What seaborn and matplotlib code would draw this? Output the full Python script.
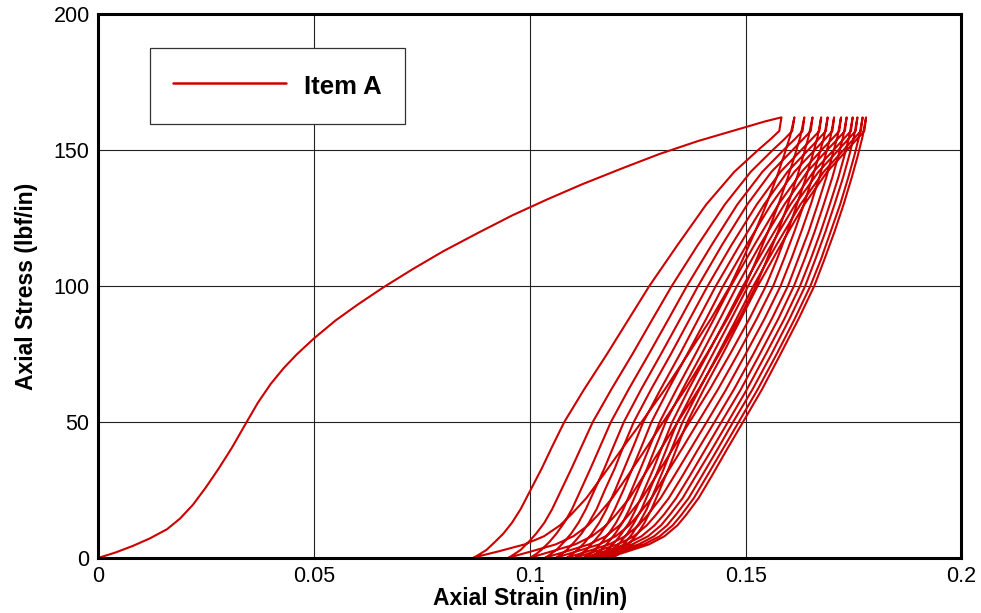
import matplotlib
matplotlib.use("Agg")
import matplotlib.pyplot as plt
import pandas as pd
import seaborn as sns
from matplotlib.ticker import MultipleLocator, FixedLocator, FixedFormatter

# ---------------- data ----------------
series_name = "Item A"

# monotonic (virgin) loading curve
load_strain = [0.0, 0.004, 0.008, 0.012, 0.016, 0.019, 0.022, 0.025, 0.028, 0.031,
               0.034, 0.037, 0.040, 0.043, 0.046, 0.050, 0.055, 0.060, 0.066, 0.073,
               0.080, 0.088, 0.096, 0.104, 0.112, 0.121, 0.130, 0.139, 0.148, 0.1545,
               0.1583]
load_stress = [0.0, 2.0, 4.4, 7.2, 10.6, 14.5, 19.6, 26.0, 33.0, 40.5,
               48.8, 57.0, 64.0, 69.8, 74.8, 80.7, 87.3, 93.0, 99.4, 106.3,
               112.8, 119.5, 126.0, 131.8, 137.3, 143.0, 148.5, 153.3, 157.5, 160.5,
               162.0]

# unloading branches: strain at these stress levels (from peak down to zero)
unload_stress = [162, 157, 154, 150, 142, 130, 115, 100, 88, 75, 62,
                 50, 41, 33, 25, 18, 13, 9, 6, 3, 1.5, 0]
unload_strains = [
    [0.1583, 0.1578, 0.1558, 0.1529, 0.1474, 0.1409, 0.1342, 0.1277, 0.1230, 0.1179, 0.1126,
     0.1080, 0.1052, 0.1028, 0.1002, 0.0979, 0.0959, 0.0939, 0.0920, 0.0900, 0.0885, 0.0869],
    [0.1613, 0.1608, 0.1590, 0.1563, 0.1512, 0.1452, 0.1389, 0.1329, 0.1285, 0.1238, 0.1189,
     0.1146, 0.1120, 0.1097, 0.1073, 0.1052, 0.1034, 0.1015, 0.0998, 0.0979, 0.0965, 0.0950],
    [0.1636, 0.1632, 0.1614, 0.1588, 0.1539, 0.1481, 0.1421, 0.1364, 0.1322, 0.1276, 0.1229,
     0.1188, 0.1163, 0.1141, 0.1118, 0.1098, 0.1080, 0.1062, 0.1046, 0.1027, 0.1015, 0.1000],
    [0.1655, 0.1651, 0.1633, 0.1609, 0.1560, 0.1504, 0.1445, 0.1390, 0.1349, 0.1304, 0.1258,
     0.1218, 0.1194, 0.1173, 0.1150, 0.1130, 0.1113, 0.1096, 0.1080, 0.1062, 0.1049, 0.1035],
    [0.1675, 0.1671, 0.1653, 0.1629, 0.1581, 0.1526, 0.1467, 0.1412, 0.1371, 0.1327, 0.1281,
     0.1241, 0.1217, 0.1197, 0.1174, 0.1155, 0.1137, 0.1120, 0.1104, 0.1086, 0.1074, 0.1060],
    [0.1690, 0.1686, 0.1669, 0.1645, 0.1597, 0.1543, 0.1486, 0.1431, 0.1391, 0.1348, 0.1303,
     0.1263, 0.1240, 0.1219, 0.1198, 0.1178, 0.1161, 0.1144, 0.1129, 0.1111, 0.1099, 0.1085],
    [0.1705, 0.1701, 0.1684, 0.1660, 0.1613, 0.1559, 0.1502, 0.1448, 0.1409, 0.1365, 0.1321,
     0.1282, 0.1259, 0.1238, 0.1217, 0.1197, 0.1181, 0.1164, 0.1148, 0.1131, 0.1119, 0.1105],
    [0.1721, 0.1717, 0.1700, 0.1676, 0.1630, 0.1576, 0.1520, 0.1466, 0.1427, 0.1384, 0.1340,
     0.1301, 0.1278, 0.1257, 0.1236, 0.1217, 0.1200, 0.1183, 0.1168, 0.1151, 0.1139, 0.1125],
    [0.1734, 0.1730, 0.1713, 0.1689, 0.1643, 0.1590, 0.1533, 0.1480, 0.1441, 0.1398, 0.1354,
     0.1315, 0.1292, 0.1272, 0.1250, 0.1231, 0.1215, 0.1198, 0.1183, 0.1166, 0.1154, 0.1140],
    [0.1748, 0.1744, 0.1727, 0.1704, 0.1657, 0.1604, 0.1548, 0.1494, 0.1455, 0.1412, 0.1368,
     0.1330, 0.1307, 0.1287, 0.1265, 0.1246, 0.1230, 0.1213, 0.1198, 0.1180, 0.1169, 0.1155],
    [0.1759, 0.1755, 0.1738, 0.1715, 0.1669, 0.1615, 0.1559, 0.1506, 0.1467, 0.1424, 0.1381,
     0.1342, 0.1319, 0.1299, 0.1278, 0.1259, 0.1242, 0.1226, 0.1211, 0.1193, 0.1182, 0.1168],
    [0.1771, 0.1767, 0.1750, 0.1727, 0.1681, 0.1627, 0.1571, 0.1518, 0.1479, 0.1436, 0.1393,
     0.1354, 0.1331, 0.1311, 0.1290, 0.1271, 0.1254, 0.1238, 0.1223, 0.1205, 0.1194, 0.1180],
    [0.1779, 0.1775, 0.1758, 0.1735, 0.1689, 0.1636, 0.1581, 0.1528, 0.1489, 0.1447, 0.1403,
     0.1365, 0.1342, 0.1322, 0.1301, 0.1282, 0.1266, 0.1250, 0.1234, 0.1217, 0.1206, 0.1192],
]

# reloading branches: strain at these stress levels (from zero up to the next peak)
reload_stress = [0, 1, 2.5, 5, 8, 12, 16, 22, 30, 40, 50,
                 62, 75, 88, 100, 110, 120, 130, 140, 148, 155, 162]
reload_strains = [
    [0.0869, 0.0891, 0.0929, 0.0988, 0.1033, 0.1070, 0.1096, 0.1131, 0.1168, 0.1213, 0.1259,
     0.1313, 0.1367, 0.1420, 0.1464, 0.1494, 0.1522, 0.1548, 0.1572, 0.1589, 0.1603, 0.1613],
    [0.0950, 0.0971, 0.1005, 0.1060, 0.1101, 0.1135, 0.1159, 0.1191, 0.1226, 0.1268, 0.1309,
     0.1360, 0.1410, 0.1458, 0.1499, 0.1526, 0.1552, 0.1576, 0.1598, 0.1614, 0.1627, 0.1636],
    [0.1000, 0.1020, 0.1052, 0.1105, 0.1144, 0.1177, 0.1200, 0.1231, 0.1263, 0.1303, 0.1343,
     0.1391, 0.1439, 0.1485, 0.1524, 0.1550, 0.1575, 0.1598, 0.1619, 0.1634, 0.1646, 0.1655],
    [0.1035, 0.1054, 0.1086, 0.1137, 0.1176, 0.1208, 0.1230, 0.1260, 0.1292, 0.1331, 0.1370,
     0.1417, 0.1464, 0.1509, 0.1547, 0.1573, 0.1597, 0.1619, 0.1640, 0.1655, 0.1667, 0.1675],
    [0.1060, 0.1079, 0.1110, 0.1161, 0.1199, 0.1230, 0.1252, 0.1282, 0.1313, 0.1352, 0.1390,
     0.1436, 0.1482, 0.1526, 0.1564, 0.1589, 0.1613, 0.1635, 0.1655, 0.1670, 0.1682, 0.1690],
    [0.1085, 0.1104, 0.1135, 0.1184, 0.1221, 0.1252, 0.1274, 0.1303, 0.1334, 0.1372, 0.1410,
     0.1455, 0.1500, 0.1544, 0.1581, 0.1606, 0.1629, 0.1651, 0.1671, 0.1685, 0.1697, 0.1705],
    [0.1105, 0.1123, 0.1154, 0.1204, 0.1241, 0.1271, 0.1293, 0.1322, 0.1353, 0.1390, 0.1428,
     0.1473, 0.1518, 0.1561, 0.1598, 0.1622, 0.1646, 0.1667, 0.1687, 0.1701, 0.1713, 0.1721],
    [0.1125, 0.1143, 0.1174, 0.1222, 0.1259, 0.1289, 0.1311, 0.1339, 0.1370, 0.1407, 0.1444,
     0.1489, 0.1533, 0.1576, 0.1612, 0.1637, 0.1660, 0.1681, 0.1701, 0.1715, 0.1726, 0.1734],
    [0.1140, 0.1158, 0.1189, 0.1237, 0.1274, 0.1304, 0.1325, 0.1354, 0.1384, 0.1422, 0.1459,
     0.1503, 0.1547, 0.1590, 0.1626, 0.1651, 0.1674, 0.1695, 0.1715, 0.1729, 0.1740, 0.1748],
    [0.1155, 0.1173, 0.1203, 0.1252, 0.1288, 0.1318, 0.1339, 0.1368, 0.1398, 0.1435, 0.1471,
     0.1516, 0.1560, 0.1602, 0.1638, 0.1662, 0.1685, 0.1706, 0.1726, 0.1740, 0.1751, 0.1759],
    [0.1168, 0.1186, 0.1216, 0.1264, 0.1301, 0.1331, 0.1352, 0.1380, 0.1410, 0.1447, 0.1484,
     0.1528, 0.1572, 0.1614, 0.1650, 0.1675, 0.1697, 0.1719, 0.1738, 0.1752, 0.1763, 0.1771],
    [0.1180, 0.1198, 0.1228, 0.1276, 0.1312, 0.1342, 0.1363, 0.1391, 0.1421, 0.1457, 0.1494,
     0.1538, 0.1581, 0.1623, 0.1659, 0.1683, 0.1706, 0.1727, 0.1746, 0.1760, 0.1771, 0.1779],
]

x_ticks = [0.0, 0.05, 0.1, 0.15, 0.2]
x_tick_labels = ["0", "0.05", "0.1", "0.15", "0.2"]
y_ticks = [0, 50, 100, 150, 200]
y_tick_labels = ["0", "50", "100", "150", "200"]
x_label = "Axial Strain (in/in)"
y_label = "Axial Stress (lbf/in)"

# ---------------- build the continuous test path ----------------
xs = list(load_strain)
ys = list(load_stress)
for i, u in enumerate(unload_strains):
    xs += u
    ys += unload_stress
    if i < len(reload_strains):
        xs += reload_strains[i]
        ys += reload_stress
df = pd.DataFrame({"strain": xs, "stress": ys, "series": series_name})

# ---------------- plotting ----------------
sns.set_style("white")
plt.rcParams["font.family"] = ["Liberation Sans", "DejaVu Sans"]
for key in ["text.color", "axes.labelcolor", "xtick.color", "ytick.color"]:
    plt.rcParams[key] = "black"

fig = plt.figure(figsize=(9.81, 6.13), dpi=100)
ax = fig.add_axes([0.0999, 0.0897, 0.8802, 0.8875])

sns.lineplot(data=df, x="strain", y="stress", hue="series", palette=["#CC0000"],
             sort=False, estimator=None, linewidth=1.5, ax=ax)

ax.set_xlim(0, 0.2)
ax.set_ylim(0, 200)
ax.xaxis.set_major_locator(FixedLocator(x_ticks))
ax.xaxis.set_major_formatter(FixedFormatter(x_tick_labels))
ax.yaxis.set_major_locator(FixedLocator(y_ticks))
ax.yaxis.set_major_formatter(FixedFormatter(y_tick_labels))
ax.xaxis.set_minor_locator(MultipleLocator(0.01))
ax.yaxis.set_minor_locator(MultipleLocator(10))

ax.tick_params(which="major", direction="in", length=10, width=1.8,
               labelsize=15.5, pad=6, colors="black", top=False, right=False)
ax.tick_params(which="minor", direction="in", length=6, width=0.8,
               top=False, right=False)

ax.grid(True, which="major", color="#222222", linewidth=0.8)
ax.set_axisbelow(True)

for side in ["left", "bottom", "top", "right"]:
    ax.spines[side].set_visible(True)
    ax.spines[side].set_color("black")
    ax.spines[side].set_linewidth(2.2)

ax.set_xlabel(x_label, fontsize=16.5, fontweight="bold", labelpad=0)
ax.set_ylabel(y_label, fontsize=16.5, fontweight="bold", labelpad=11)

handles, labels = ax.get_legend_handles_labels()
leg = ax.legend(handles, labels, loc="upper left", bbox_to_anchor=(0.060, 0.9375),
                borderaxespad=0, frameon=True, fancybox=False, framealpha=1,
                edgecolor="#333333", handlelength=4.4, handleheight=1.4,
                handletextpad=0.7, borderpad=0.9,
                prop={"weight": "bold", "size": 18.5})
leg.get_frame().set_linewidth(0.9)
for ln in leg.get_lines():
    ln.set_linewidth(1.8)

fig.savefig("out.png", dpi=100)
